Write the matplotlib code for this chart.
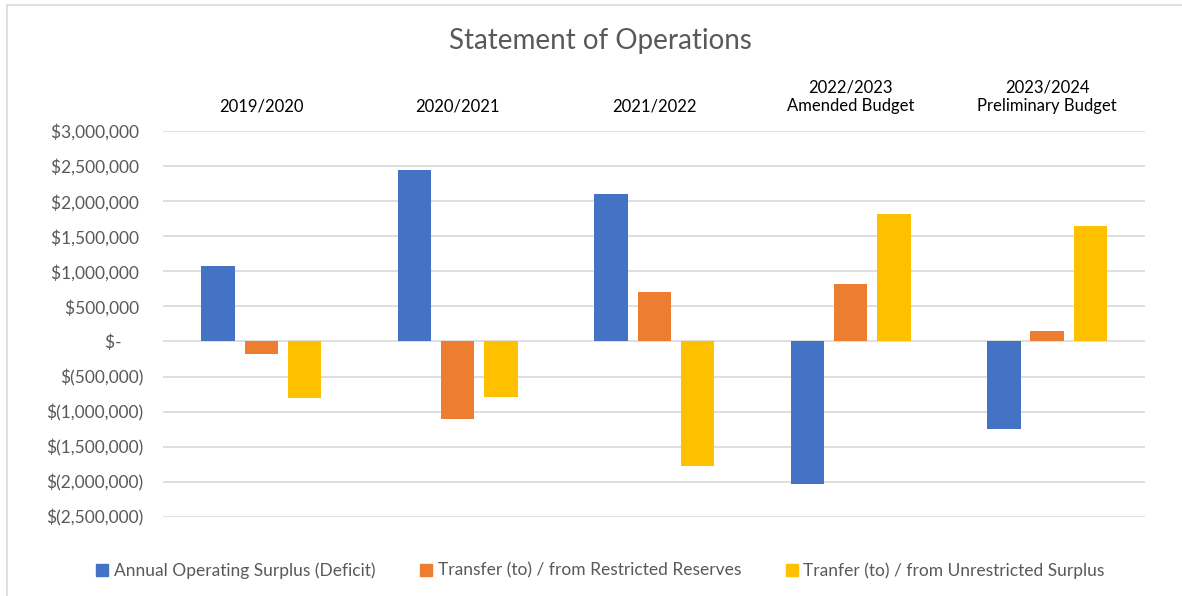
import matplotlib.pyplot as plt
import numpy as np
from matplotlib.lines import Line2D
from matplotlib.ticker import FuncFormatter

plt.rcParams['font.family'] = ['Lato', 'DejaVu Sans']

categories = ['2019/2020', '2020/2021', '2021/2022',
              '2022/2023\nAmended Budget', '2023/2024\nPreliminary Budget']
series_names = ['Annual Operating Surplus (Deficit)',
                'Transfer (to) / from Restricted Reserves',
                'Tranfer (to) / from Unrestricted Surplus']
operating = [1070000, 2440000, 2100000, -2040000, -1250000]
restricted = [-176000, -1105000, 710000, 825000, 142000]
unrestricted = [-810000, -790000, -1770000, 1825000, 1640000]
colors = ['#4472C4', '#ED7D31', '#FFC000']

fig = plt.figure(figsize=(11.82, 5.96), dpi=100)
ax = fig.add_axes([0.138, 0.133, 0.831, 0.647])

x = np.arange(len(categories))
w = 0.17
step = 0.22
for i, vals in enumerate([operating, restricted, unrestricted]):
    ax.bar(x + (i - 1) * step, vals, width=w, color=colors[i],
           label=series_names[i], zorder=3)

ax.set_xlim(-0.5, len(categories) - 0.5)
ax.set_ylim(-2500000, 3000000)
ax.set_yticks(np.arange(-2500000, 3000001, 500000))


def money(v, pos):
    if v == 0:
        return '$-     '
    if v < 0:
        return '$({:,.0f})'.format(-v)
    return '${:,.0f} '.format(v)


ax.yaxis.set_major_formatter(FuncFormatter(money))
ax.grid(axis='y', color='#D9D9D9', linewidth=1.2, zorder=0)
for s in ax.spines.values():
    s.set_visible(False)
ax.tick_params(axis='y', length=0, pad=14, labelsize=12.5, labelcolor='#595959')

ax.xaxis.tick_top()
ax.set_xticks(x)
ax.set_xticklabels(categories)
ax.tick_params(axis='x', length=0, pad=12, labelsize=12, labelcolor='#000000')

fig.text(0.508, 0.932, 'Statement of Operations', ha='center', va='center',
         fontsize=20, color='#595959')

handles = [plt.Rectangle((0, 0), 1, 1, color=c) for c in colors]
fig.legend(handles, series_names, loc='center', bbox_to_anchor=(0.508, 0.043),
           ncol=3, frameon=False, fontsize=12.5, labelcolor='#595959',
           handlelength=0.7, handleheight=0.7, handletextpad=0.3,
           columnspacing=2.6)

# chart border (left and top edges visible)
fig.add_artist(Line2D([7 / 1182, 7 / 1182], [0, 1 - 5 / 596],
                      transform=fig.transFigure, color='#D9D9D9', lw=1.2))
fig.add_artist(Line2D([7 / 1182, 1], [1 - 5 / 596, 1 - 5 / 596],
                      transform=fig.transFigure, color='#D9D9D9', lw=1.2))

fig.savefig('out.png', dpi=100)
